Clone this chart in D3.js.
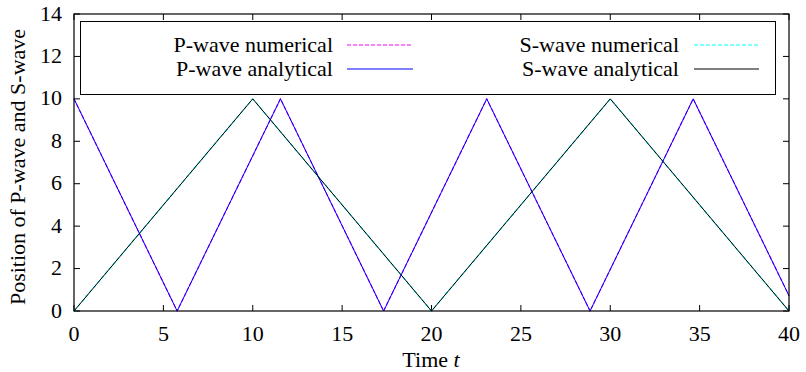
<!DOCTYPE html>
<html>
<head>
<meta charset="utf-8">
<script src="https://d3js.org/d3.v7.min.js"></script>
<style>
  body { margin: 0; background: #fff; }
  text { font-family: 'Liberation Serif', 'Times New Roman', serif; fill: #000; }
</style>
</head>
<body>
<svg id="chart" width="806" height="372"></svg>
<script>
/*--- data ---*/
var pTimes = [0, 5.77, 11.55, 17.32, 23.09, 28.87, 34.64, 40];
var pValues = [10, 0, 10, 0, 10, 0, 10, 0.72];
var sTimes = [0, 10, 20, 30, 40];
var sValues = [0, 10, 0, 10, 0];
var xTicks = [0, 5, 10, 15, 20, 25, 30, 35, 40];
var yTicks = [0, 2, 4, 6, 8, 10, 12, 14];
var legendNames = ["P-wave numerical", "P-wave analytical", "S-wave numerical", "S-wave analytical"];

var svg = d3.select("#chart"),
  plotL = 74, plotR = 789, plotT = 14, plotB = 311,
  fs = 22, tickLen = 6;

var x = d3.scaleLinear().domain([0, 40]).range([plotL, plotR]),
  y = d3.scaleLinear().domain([0, 14]).range([plotB, plotT]);

var pData = pTimes.map(function(t, i) { return [t, pValues[i]]; }),
  sData = sTimes.map(function(t, i) { return [t, sValues[i]]; });

var line = d3.line().x(function(d) { return x(d[0]); }).y(function(d) { return y(d[1]); });

/*--- ticks (gnuplot style, inward and mirrored) ---*/
var g = svg.append("g");
xTicks.forEach(function(t) {
  g.append("line").attr("x1", x(t)).attr("x2", x(t)).attr("y1", plotB).attr("y2", plotB - tickLen)
    .attr("stroke", "#000");
  g.append("line").attr("x1", x(t)).attr("x2", x(t)).attr("y1", plotT).attr("y2", plotT + tickLen)
    .attr("stroke", "#000");
  g.append("text").attr("x", x(t)).attr("y", 340.5).attr("text-anchor", "middle")
    .style("font-size", fs + "px").text(t);
});
yTicks.forEach(function(v) {
  g.append("line").attr("x1", plotL).attr("x2", plotL + tickLen).attr("y1", y(v)).attr("y2", y(v))
    .attr("stroke", "#000");
  g.append("line").attr("x1", plotR).attr("x2", plotR - tickLen).attr("y1", y(v)).attr("y2", y(v))
    .attr("stroke", "#000");
  g.append("text").attr("x", 62).attr("y", y(v) + 6.5).attr("text-anchor", "end")
    .style("font-size", fs + "px").text(v);
});

/*--- curves: numerical dashed underneath, analytical on top ---*/
svg.append("path").datum(pData).attr("d", line).attr("fill", "none")
  .attr("stroke", "#ff00ff").attr("stroke-width", 1.2).attr("stroke-dasharray", "4,2");
svg.append("path").datum(sData).attr("d", line).attr("fill", "none")
  .attr("stroke", "#00ffff").attr("stroke-width", 1.2).attr("stroke-dasharray", "4,2");
svg.append("path").datum(pData).attr("d", line).attr("fill", "none")
  .attr("stroke", "#0000ff").attr("stroke-width", 1);
svg.append("path").datum(sData).attr("d", line).attr("fill", "none")
  .attr("stroke", "#000000").attr("stroke-width", 1);

/*--- legend box ---*/
svg.append("rect").attr("x", 80.5).attr("y", 21.5).attr("width", 695).attr("height", 73)
  .attr("fill", "#fff").attr("stroke", "#000");

var legend = [
  { name: legendNames[0], tx: 333, x1: 347, x2: 413, y: 45, color: "#ff00ff", dash: "4,2" },
  { name: legendNames[1], tx: 333, x1: 347, x2: 413, y: 69, color: "#0000ff", dash: null },
  { name: legendNames[2], tx: 679, x1: 694, x2: 759, y: 45, color: "#00ffff", dash: "4,2" },
  { name: legendNames[3], tx: 679, x1: 694, x2: 759, y: 69, color: "#000000", dash: null }
];
legend.forEach(function(d) {
  svg.append("text").attr("x", d.tx).attr("y", d.y + 7).attr("text-anchor", "end")
    .style("font-size", fs + "px").text(d.name);
  svg.append("line").attr("x1", d.x1).attr("x2", d.x2).attr("y1", d.y).attr("y2", d.y)
    .attr("stroke", d.color).attr("stroke-dasharray", d.dash);
});

/*--- frame ---*/
svg.append("rect").attr("x", plotL).attr("y", plotT).attr("width", plotR - plotL).attr("height", plotB - plotT)
  .attr("fill", "none").attr("stroke", "#000").attr("stroke-width", 1.2);

/*--- axis titles ---*/
var xt = svg.append("text").attr("x", 431).attr("y", 367).attr("text-anchor", "middle")
  .style("font-size", fs + "px");
xt.append("tspan").text("Time ");
xt.append("tspan").style("font-style", "italic").text("t");

svg.append("text").attr("transform", "translate(25,167) rotate(-90)")
  .attr("text-anchor", "middle").style("font-size", fs + "px")
  .text("Position of P-wave and S-wave");
</script>
</body>
</html>
